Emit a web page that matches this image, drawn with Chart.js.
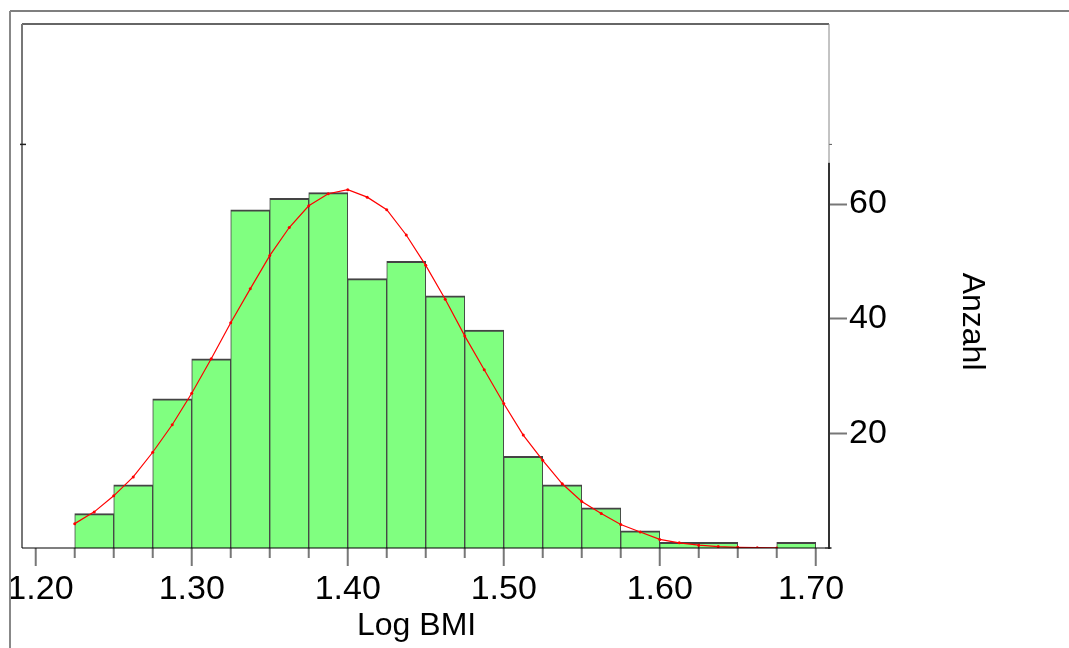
<!DOCTYPE html>
<html><head><meta charset="utf-8">
<script src="https://cdn.jsdelivr.net/npm/chart.js@4"></script>
<style>html,body{margin:0;padding:0;background:#fff;overflow:hidden}</style>
</head><body>
<canvas id="c" width="1069" height="648"></canvas>
<script>
// Histogram bins (Log BMI), bin width 0.025
const binCenters = [1.2375,1.2625,1.2875,1.3125,1.3375,1.3625,1.3875,1.4125,1.4375,1.4625,
                    1.4875,1.5125,1.5375,1.5625,1.5875,1.6125,1.6375,1.6625,1.6875];
const counts     = [6,11,26,33,59,61,62,47,50,44,38,16,11,7,3,1,1,0,1];

// Fitted normal curve
const curveX = [1.225,1.2375,1.25,1.2625,1.275,1.2875,1.30,1.3125,1.325,1.3375,1.35,1.3625,1.375,1.3875,
                1.40,1.4125,1.425,1.4375,1.45,1.4625,1.475,1.4875,1.50,1.5125,1.525,1.5375,1.55,1.5625,
                1.575,1.5875,1.60,1.6125,1.625,1.6375,1.65,1.6625,1.675];
const curveY = [4.25,6.3,9.1,12.4,16.7,21.5,27.0,33.0,39.3,45.2,51.0,55.9,59.7,61.8,
                62.5,61.2,59.0,54.6,49.3,43.4,37.0,31.1,25.2,19.7,15.3,11.2,8.1,6.0,
                4.1,2.8,1.5,0.9,0.5,0.25,0.12,0.05,0.02];

// Axis ticks
const xMajorTicks = [1.20,1.30,1.40,1.50,1.60,1.70];
const xMinorTicks = [1.225,1.25,1.275,1.325,1.35,1.375,1.425,1.45,1.475,1.525,1.55,1.575,1.625,1.65,1.675];
const yTicks = [20,40,60];
const xTitle = 'Log BMI';
const yTitle = 'Anzahl';

const FONT = 'Liberation Sans, Arial, Helvetica, sans-serif';

const framePlugin = {
  id: 'frame',
  afterDatasetsDraw(chart) {
    const ctx = chart.ctx, a = chart.chartArea;
    const xs = chart.scales.x, ys = chart.scales.y;
    const seg = (x1, y1, x2, y2, color, w) => {
      ctx.beginPath(); ctx.strokeStyle = color; ctx.lineWidth = w;
      ctx.moveTo(x1, y1); ctx.lineTo(x2, y2); ctx.stroke();
    };
    ctx.save();
    // outer frame
    seg(10, 11, chart.width, 11, '#555', 1.5);
    seg(10, 11, 10, chart.height, '#888', 2);
    // inner frame top and left
    seg(a.left, a.top, a.right, a.top, '#333', 1.5);
    seg(a.left, a.top, a.left, a.bottom, '#777', 2);
    const yMark = ys.getPixelForValue(70.4);
    seg(a.left - 2, yMark, a.left + 4, yMark, '#222', 1.5);
    seg(a.right, yMark, a.right + 3, yMark, '#555', 1);
    // right axis: thin upper part, thick lower part
    const yThick = ys.getPixelForValue(67.2);
    seg(a.right, a.top, a.right, yThick, '#888', 1);
    seg(a.right, yThick, a.right, a.bottom + 1, '#333', 2);
    seg(a.right - 4, a.bottom, a.right + 3, a.bottom, '#555', 1);
    // x ticks
    xMajorTicks.forEach(v => { const p = xs.getPixelForValue(v); seg(p, a.bottom, p, a.bottom + 18, '#777', 2); });
    xMinorTicks.forEach(v => { const p = xs.getPixelForValue(v); seg(p, a.bottom, p, a.bottom + 10, '#777', 2); });
    // baseline
    seg(a.left, a.bottom, a.right + 2, a.bottom, '#000', 1.2);
    ctx.restore();
  }
};

new Chart(document.getElementById('c'), {
  type: 'bar',
  data: {
    datasets: [
      {
        type: 'line',
        data: curveX.map((x, i) => ({x, y: curveY[i]})),
        borderColor: '#ff0000', borderWidth: 1.2,
        pointRadius: 1.5, pointBackgroundColor: '#ff0000', pointBorderWidth: 0,
        tension: 0, fill: false, order: 0
      },
      {
        type: 'bar',
        data: binCenters.map((x, i) => ({x, y: counts[i]})),
        backgroundColor: '#80ff80',
        borderColor: '#444444',
        borderWidth: {top: 2, left: 1, right: 1, bottom: 0},
        borderSkipped: false,
        barPercentage: 1, categoryPercentage: 1,
        order: 1
      }
    ]
  },
  options: {
    responsive: false, animation: false, devicePixelRatio: 1,
    layout: {padding: {top: 24, left: 22, right: 0, bottom: 0}},
    plugins: {legend: {display: false}, tooltip: {enabled: false}},
    scales: {
      x: {
        type: 'linear', min: 1.1912, max: 1.7085, offset: false,
        grid: {display: false, drawTicks: false, offset: false},
        border: {display: false},
        afterBuildTicks: s => { s.ticks = xMajorTicks.map(v => ({value: v})); },
        ticks: {
          autoSkip: false, maxRotation: 0, minRotation: 0, padding: 21, color: '#000',
          font: {family: FONT, size: 34},
          callback: (v, i, arr) => {
            const t = Number(v).toFixed(2);
            if (i === 0) return ' ' + t;
            if (i === arr.length - 1) return t + ' ';
            return t;
          }
        },
        title: {display: true, text: xTitle + '\u00a0\u00a0', color: '#000',
                font: {family: FONT, size: 32}, padding: {top: 0, bottom: 3}},
        afterFit: s => { s.height = 100; s.paddingLeft = 0; s.paddingRight = 0; }
      },
      y: {
        position: 'right', min: 0, max: 91.4,
        grid: {display: true, drawOnChartArea: false, drawTicks: true, tickLength: 18,
               tickColor: '#777', tickWidth: 2},
        border: {display: false},
        afterBuildTicks: s => { s.ticks = yTicks.map(v => ({value: v})); },
        ticks: {padding: 2, color: '#000', font: {family: FONT, size: 34}},
        title: {display: true, text: '\u00a0'.repeat(8) + yTitle, color: '#000',
                font: {family: FONT, size: 32}, padding: {top: 78, bottom: 0}},
        afterFit: s => { s.width = 240; s.paddingTop = 0; s.paddingBottom = 0; }
      }
    }
  },
  plugins: [framePlugin]
});
</script>
</body></html>
